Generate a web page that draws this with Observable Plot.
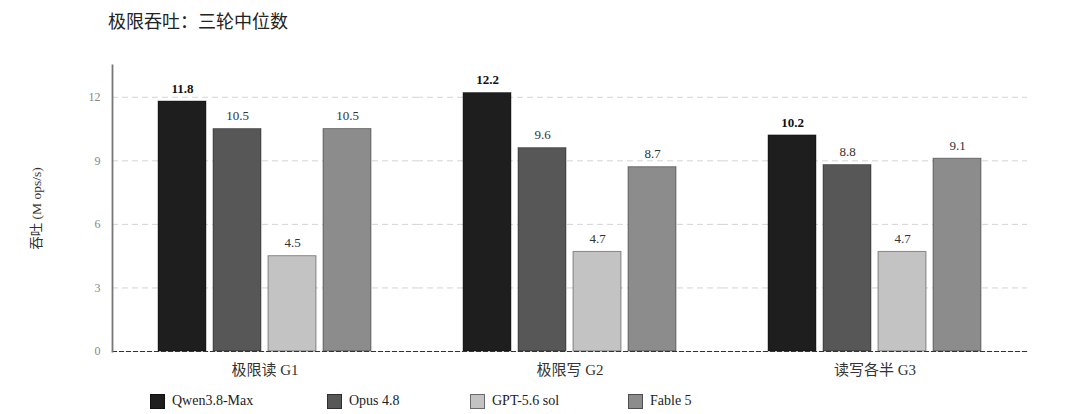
<!DOCTYPE html>
<html>
<head>
<meta charset="utf-8">
<script src="https://cdn.jsdelivr.net/npm/d3@7"></script>
<script src="https://cdn.jsdelivr.net/npm/@observablehq/plot@0.6"></script>
<style>
  body { margin: 0; background: #fff; font-family: "Liberation Serif", "Noto Sans CJK SC", serif; }
  #title { height: 44px; box-sizing: border-box; padding: 12px 0 0 108px; font-size: 18px; line-height: 20px; color: #222; }
  #legend { position: relative; height: 31px; font-size: 14px; color: #222; }
  .item { position: absolute; top: 10px; display: flex; align-items: center; }
  .sw { width: 15px; height: 15px; box-sizing: border-box; border: 1px solid rgba(0,0,0,0.45); margin-right: 7px; }
</style>
</head>
<body>
<div id="title">极限吞吐：三轮中位数</div>
<div id="chart"></div>
<div id="legend"></div>
<script>
const groups = ["极限读 G1", "极限写 G2", "读写各半 G3"];
const series = ["Qwen3.8-Max", "Opus 4.8", "GPT-5.6 sol", "Fable 5"];
const qwen = [11.8, 12.2, 10.2];
const opus = [10.5, 9.6, 8.8];
const gpt = [4.5, 4.7, 4.7];
const fable = [10.5, 8.7, 9.1];
const colors = ["#1e1e1e", "#575757", "#c3c3c3", "#8c8c8c"];
const yTicks = [0, 3, 6, 9, 12];
const legendLeft = [150, 327, 470, 628];

const values = [qwen, opus, gpt, fable];
const data = [];
groups.forEach((g, gi) => {
  series.forEach((s, si) => {
    data.push({group: g, series: s, value: values[si][gi]});
  });
});

const font = '"Liberation Serif", "Noto Sans CJK SC", serif';

const chart = Plot.plot({
  width: 1080,
  height: 339,
  marginLeft: 108,
  marginRight: 50,
  marginTop: 21,
  marginBottom: 32,
  style: {fontFamily: font, fontSize: "12px", background: "white", color: "#222"},
  fx: {domain: groups, paddingInner: 0, paddingOuter: 0.01, label: null},
  x: {domain: series, paddingInner: 0.127, paddingOuter: 0.823, axis: null},
  y: {domain: [0, 13.5], label: null},
  color: {domain: series, range: colors},
  marks: [
    Plot.gridY(yTicks.filter(t => t > 0), {stroke: "#d4d4d4", strokeOpacity: 1, strokeDasharray: "6,4"}),
    Plot.axisY({ticks: yTicks, tickSize: 0, tickPadding: 12, fontSize: 12, color: "#888", label: null}),
    Plot.axisY({ticks: [], tickSize: 0, label: "吞吐 (M ops/s)", labelAnchor: "center", labelArrow: "none", labelOffset: 81, fontSize: 13.5, color: "#333"}),
    Plot.axisFx({anchor: "bottom", tickSize: 0, tickPadding: 13, fontSize: 15, label: null, color: "#333"}),
    Plot.barY(data, {fx: "group", x: "series", y: "value", fill: "series", stroke: "black", strokeOpacity: 0.4, strokeWidth: 1}),
    Plot.text(data.filter(d => d.series === series[0]), {fx: "group", x: "series", y: "value", text: d => d.value.toFixed(1), dy: -13, fontWeight: "bold", fontSize: 13, fill: "#111"}),
    Plot.text(data.filter(d => d.series !== series[0]), {fx: "group", x: "series", y: "value", text: d => d.value.toFixed(1), dy: -13, fontSize: 13, fill: "#333"}),
    Plot.frame({anchor: "bottom", facet: "super", stroke: "#333", strokeDasharray: "4,3", strokeWidth: 1.2}),
    Plot.frame({anchor: "left", facet: "super", stroke: "#777", strokeWidth: 1.8})
  ]
});
document.getElementById("chart").appendChild(chart);

const legend = document.getElementById("legend");
series.forEach((s, i) => {
  const item = document.createElement("div");
  item.className = "item";
  item.style.left = legendLeft[i] + "px";
  const sw = document.createElement("span");
  sw.className = "sw";
  sw.style.background = colors[i];
  const label = document.createElement("span");
  label.textContent = s;
  item.appendChild(sw);
  item.appendChild(label);
  legend.appendChild(item);
});
</script>
</body>
</html>
